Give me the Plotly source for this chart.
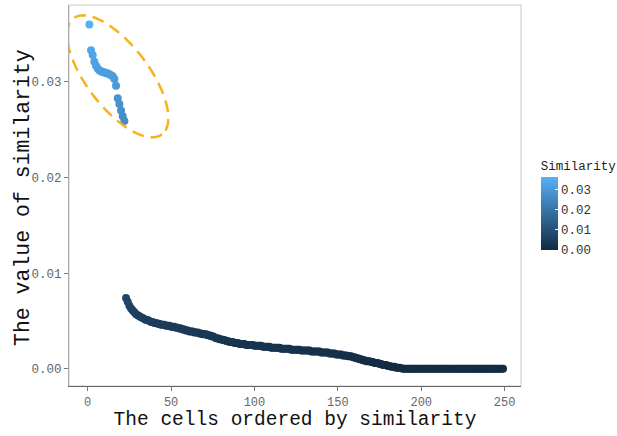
import math
import plotly.graph_objects as go

# ---- data ----
cluster_vals = [0.0360, 0.0333, 0.0328, 0.0321, 0.0317, 0.0314, 0.0312, 0.0311,
                0.0310, 0.0310, 0.0309, 0.0309, 0.0308, 0.0307, 0.0306, 0.0303,
                0.0296, 0.0283, 0.0277, 0.0270, 0.0264, 0.0259]

tail_vals = [
    0.0074, 0.0070, 0.0066, 0.0063, 0.0061, 0.0059, 0.0057, 0.0056, 0.0055, 0.0054,
    0.0053, 0.0052, 0.0051, 0.0051, 0.0050, 0.0049, 0.0049, 0.0048, 0.0048, 0.0047,
    0.0047, 0.0046, 0.0046, 0.0046, 0.0045, 0.0045, 0.0045, 0.0044, 0.0044, 0.0044,
    0.0043, 0.0043, 0.0042, 0.0042, 0.0041, 0.0041, 0.0040, 0.0040, 0.0039, 0.0039,
    0.0039, 0.0038, 0.0038, 0.0038, 0.0037, 0.0037, 0.0036, 0.0036, 0.0036, 0.0035,
    0.0035, 0.0034, 0.0034, 0.0033, 0.0032, 0.0032, 0.0031, 0.0031, 0.0030, 0.0030,
    0.0029, 0.0029, 0.0028, 0.0028, 0.0028, 0.0027, 0.0027, 0.0027, 0.0026, 0.0026,
    0.0026, 0.0026, 0.0025, 0.0025, 0.0025, 0.0025, 0.0025, 0.0024, 0.0024, 0.0024,
    0.0024, 0.0024, 0.0023, 0.0023, 0.0023, 0.0023, 0.0023, 0.0022, 0.0022, 0.0022,
    0.0022, 0.0022, 0.0022, 0.0021, 0.0021, 0.0021, 0.0021, 0.0021, 0.0021, 0.0020,
    0.0020, 0.0020, 0.0020, 0.0020, 0.0020, 0.0019, 0.0019, 0.0019, 0.0019, 0.0019,
    0.0019, 0.0018, 0.0018, 0.0018, 0.0018, 0.0018, 0.0018, 0.0017, 0.0017, 0.0017,
    0.0017, 0.0017, 0.0016, 0.0016, 0.0016, 0.0016, 0.0015, 0.0015, 0.0015, 0.0015,
    0.0014, 0.0014, 0.0014, 0.0013, 0.0013, 0.0013, 0.0012, 0.0012, 0.0011, 0.0011,
    0.0010, 0.0010, 0.0009, 0.0009, 0.0008, 0.0008, 0.0008, 0.0007, 0.0007, 0.0006,
    0.0006, 0.0006, 0.0005, 0.0005, 0.0004, 0.0004, 0.0004, 0.0003, 0.0003, 0.0002,
    0.0002, 0.0002, 0.0001, 0.0001, 0.0001, 0.00005,
]

zero_count = 61
zero_vals = [0.0] * zero_count

similarity = cluster_vals + tail_vals + zero_vals
rank = list(range(1, len(similarity) + 1))

x_ticks = [0, 50, 100, 150, 200, 250]
y_ticks = [0.00, 0.01, 0.02, 0.03]
y_tick_text = ["0.00", "0.01", "0.02", "0.03"]

# ---- layout geometry ----
W, H = 617, 436
ML, MR, MT, MB = 69, 96, 5, 50
x_range = [-11.2, 259.8]
y_range = [-0.0018, 0.03804]
pw, ph = W - ML - MR, H - MT - MB
px_per_x = pw / (x_range[1] - x_range[0])
px_per_y = ph / (y_range[1] - y_range[0])

FONT = "Liberation Mono"

fig = go.Figure()
fig.add_trace(go.Scatter(
    x=rank, y=similarity, mode="markers",
    marker=dict(
        size=8, color=similarity, cmin=0, cmax=max(similarity),
        colorscale=[[0, "#132B43"], [1, "#56B1F7"]],
        line=dict(width=0),
        colorbar=dict(
            title=dict(text="Similarity", side="top",
                       font=dict(family=FONT, size=12.5, color="#222")),
            thickness=17, thicknessmode="pixels",
            len=92, lenmode="pixels",
            x=(540.7 - ML) / pw, xanchor="left", xpad=0,
            y=(H - MB - 204) / ph, yanchor="middle", ypad=0,
            outlinewidth=0,
            tickvals=y_ticks, ticktext=y_tick_text,
            ticks="inside", ticklen=3, tickcolor="white",
            tickfont=dict(family=FONT, size=12.5, color="#333"),
        ),
    ),
    showlegend=False, hoverinfo="x+y",
))

# ---- dashed ellipse highlighting the top cluster ----
ell_cx, ell_cy = 18.0, 0.03058      # centre, data units
ell_a, ell_b = 73, 31               # semi-axes, pixels
ell_ang = math.radians(52.7)        # rotation, screen (clockwise, y down)
pts = []
for k in range(73):
    t = 2 * math.pi * k / 72
    dx = ell_a * math.cos(t) * math.cos(ell_ang) - ell_b * math.sin(t) * math.sin(ell_ang)
    dy = ell_a * math.cos(t) * math.sin(ell_ang) + ell_b * math.sin(t) * math.cos(ell_ang)
    pts.append((ell_cx + dx / px_per_x, ell_cy - dy / px_per_y))
path = "M " + " L ".join(f"{a:.4f},{b:.6f}" for a, b in pts) + " Z"

fig.add_shape(type="path", path=path, xref="x", yref="y",
              line=dict(color="#F5B41E", width=2.5, dash="12px,7px"),
              layer="above")

# panel border (light)
fig.add_shape(type="rect", xref="paper", yref="paper", x0=0, x1=1, y0=0, y1=1,
              line=dict(color="#c8c8c8", width=1), layer="below")

# y-axis title placed as a rotated annotation (closer than standoff allows)
fig.add_annotation(text="The value of similarity", textangle=-90,
                   xref="paper", yref="paper",
                   x=(23 - ML) / pw, y=(H - MB - 198) / ph,
                   xanchor="center", yanchor="middle", showarrow=False,
                   font=dict(family=FONT, size=21.5, color="#111"))

fig.update_layout(
    width=W, height=H,
    margin=dict(l=ML, r=MR, t=MT, b=MB, autoexpand=False),
    paper_bgcolor="white", plot_bgcolor="white",
    font=dict(family=FONT),
    xaxis=dict(
        range=x_range, tickvals=x_ticks, showgrid=False, zeroline=False,
        showline=True, linecolor="#666", linewidth=1.2,
        ticks="outside", ticklen=4, tickcolor="#777",
        tickfont=dict(family=FONT, size=12, color="#666"),
        title=dict(text="The cells ordered by similarity", standoff=1,
                   font=dict(family=FONT, size=19.5, color="#111")),
    ),
    yaxis=dict(
        range=y_range, tickvals=y_ticks, ticktext=y_tick_text,
        showgrid=False, zeroline=False,
        showline=True, linecolor="#aaa", linewidth=1,
        ticks="outside", ticklen=4, tickcolor="#777",
        tickfont=dict(family=FONT, size=12.5, color="#666"),
    ),
)

fig.write_html("out.html",
               config={"displayModeBar": False},
               post_script="document.body.style.margin='0px';"
                           "document.body.style.overflow='hidden';")
